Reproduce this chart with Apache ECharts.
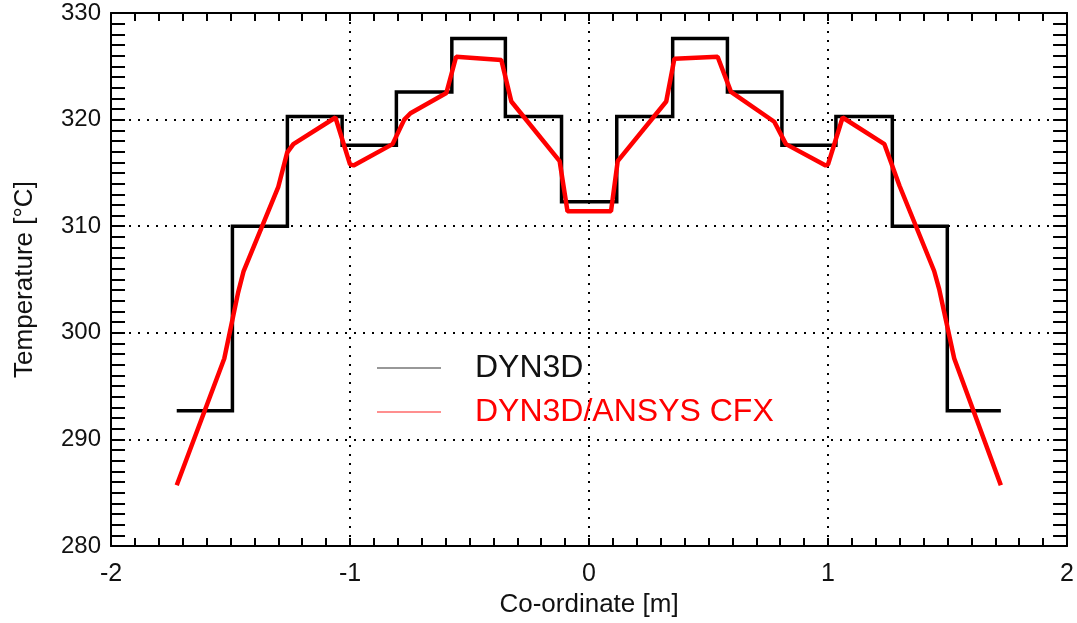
<!DOCTYPE html>
<html>
<head>
<meta charset="utf-8">
<script src="https://cdn.jsdelivr.net/npm/echarts@6/dist/echarts.min.js"></script>
<style>html,body{margin:0;padding:0;background:#fff}#c{width:1077px;height:623px}</style>
</head>
<body>
<div id="c"></div>
<script>
// DYN3D step profile: assembly edges and temperatures
const dynEdges = [-1.725, -1.492, -1.262, -1.033, -0.806, -0.574, -0.350, -0.115, 0.116, 0.350, 0.579, 0.807, 1.033, 1.269, 1.499, 1.723];
const dynTemps = [292.7, 310.0, 320.3, 317.6, 322.6, 327.6, 320.3, 312.3, 320.3, 327.6, 322.6, 317.6, 320.3, 310.0, 292.7];
// DYN3D/ANSYS CFX profile
const cfxX = [-1.725, -1.526, -1.468, -1.445, -1.300, -1.263, -1.237, -1.061, -1.000, -0.985, -0.822, -0.773, -0.747, -0.597, -0.556, -0.367, -0.325, -0.123, -0.090, 0.092, 0.120, 0.323, 0.357, 0.538, 0.594, 0.775, 0.824, 0.990, 1.000, 1.061, 1.236, 1.299, 1.444, 1.465, 1.528, 1.723];
const cfxT = [285.7, 297.6, 303.8, 305.8, 313.7, 316.9, 317.7, 320.2, 315.8, 315.7, 317.7, 320.0, 320.6, 322.5, 325.9, 325.6, 321.7, 316.1, 311.4, 311.4, 316.1, 321.7, 325.7, 325.9, 322.6, 319.8, 317.7, 315.7, 315.8, 320.2, 317.7, 313.8, 305.8, 304.1, 297.6, 285.7];
const xTicks = [-2, -1, 0, 1, 2];
const yTicks = [280, 290, 300, 310, 320, 330];
const seriesNames = ['DYN3D', 'DYN3D/ANSYS CFX'];
const seriesColors = ['#000000', '#ff0000'];
const xTitle = 'Co-ordinate [m]';
const yTitle = 'Temperature [°C]';

const dynData = dynTemps.map((t, i) => [dynEdges[i], t]);
dynData.push([dynEdges[dynEdges.length - 1], dynTemps[dynTemps.length - 1]]);
const cfxData = cfxX.map((x, i) => [x, cfxT[i]]);

const FONT = 'Liberation Sans, Arial, sans-serif';
const dotted = {color: '#000', width: 2, type: [2, 7]};
const frame = {show: true, onZero: false, lineStyle: {color: '#000', width: 2}};

// legend drawn as graphic elements (line sample + label)
const legendRows = seriesNames.map((name, i) => {
  const y = 368 + i * 44;
  const lineColor = i === 0 ? '#333' : '#ff2020';
  const textColor = i === 0 ? '#111' : '#ff0000';
  return [
    {type: 'line', shape: {x1: 377, y1: y, x2: 441, y2: y}, style: {stroke: lineColor, lineWidth: 1.2}, z: 10},
    {type: 'text', x: 475, y: y, style: {text: name, fill: textColor, font: '32px ' + FONT, textVerticalAlign: 'middle', verticalAlign: 'middle'}, z: 10}
  ];
}).flat();

const chart = echarts.init(document.getElementById('c'), null, {renderer: 'canvas'});
chart.setOption({
  animation: false,
  backgroundColor: '#fff',
  color: seriesColors,
  grid: {left: 111, top: 13, right: 9, bottom: 75, containLabel: false},
  graphic: {elements: legendRows},
  xAxis: [{
    type: 'value', min: -2, max: 2, interval: 1, position: 'bottom',
    name: xTitle, nameLocation: 'middle', nameGap: 44,
    nameTextStyle: {fontFamily: FONT, fontSize: 26, color: '#111'},
    axisLine: frame,
    axisTick: {show: true, inside: true, length: 8, lineStyle: {color: '#000', width: 2}},
    minorTick: {show: true, splitNumber: 10, length: 8, lineStyle: {color: '#000', width: 2}},
    axisLabel: {fontFamily: FONT, fontSize: 25, color: '#111', margin: 16,
      formatter: v => xTicks.includes(v) ? String(v) : ''},
    splitLine: {show: true, lineStyle: dotted}
  }, {
    type: 'value', min: -2, max: 2, interval: 1, position: 'top',
    axisLine: frame,
    axisTick: {show: true, inside: true, length: 8, lineStyle: {color: '#000', width: 2}},
    minorTick: {show: true, splitNumber: 10, length: 8, lineStyle: {color: '#000', width: 2}},
    axisLabel: {show: false}, splitLine: {show: false}
  }],
  yAxis: [{
    type: 'value', min: 280, max: 330, interval: 10, position: 'left',
    name: yTitle, nameLocation: 'middle', nameGap: 73, nameRotate: 90,
    nameTextStyle: {fontFamily: FONT, fontSize: 26, color: '#111'},
    axisLine: frame,
    axisTick: {show: true, inside: true, length: 14, lineStyle: {color: '#000', width: 2}},
    minorTick: {show: true, splitNumber: 10, length: 14, lineStyle: {color: '#000', width: 2}},
    axisLabel: {fontFamily: FONT, fontSize: 24, color: '#111', margin: 10,
      formatter: v => yTicks.includes(v) ? String(v) : ''},
    splitLine: {show: true, lineStyle: dotted}
  }, {
    type: 'value', min: 280, max: 330, interval: 10, position: 'right',
    axisLine: frame,
    axisTick: {show: true, inside: true, length: 14, lineStyle: {color: '#000', width: 2}},
    minorTick: {show: true, splitNumber: 10, length: 14, lineStyle: {color: '#000', width: 2}},
    axisLabel: {show: false}, splitLine: {show: false}
  }],
  series: [{
    name: seriesNames[0], type: 'line', step: 'end', data: dynData,
    xAxisIndex: 0, yAxisIndex: 0, showSymbol: false, symbol: 'none',
    lineStyle: {color: seriesColors[0], width: 3.5, join: 'miter'}, itemStyle: {color: seriesColors[0]}, z: 3
  }, {
    name: seriesNames[1], type: 'line', data: cfxData,
    xAxisIndex: 0, yAxisIndex: 0, showSymbol: false, symbol: 'none',
    lineStyle: {color: seriesColors[1], width: 4.5}, itemStyle: {color: seriesColors[1]}, z: 4
  }]
});
</script>
</body>
</html>
